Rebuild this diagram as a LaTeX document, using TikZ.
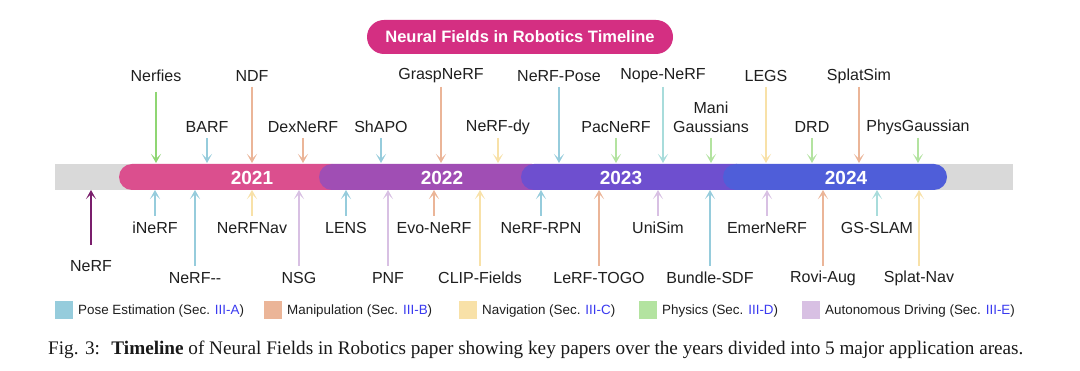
\documentclass[tikz,border=0pt]{standalone}
\usepackage{fontspec}
\setmainfont{Liberation Sans}
\newfontfamily\capfont{Liberation Serif}
\usetikzlibrary{arrows.meta}
\definecolor{cGray}{HTML}{D9D9D9}
\definecolor{cYA}{HTML}{DB4F8E}
\definecolor{cYB}{HTML}{A04EB4}
\definecolor{cYC}{HTML}{6E4FCF}
\definecolor{cYD}{HTML}{4F5ED9}
\definecolor{cTitle}{HTML}{D42F82}
\definecolor{cPose}{HTML}{96CCDC}
\definecolor{cManip}{HTML}{EBB598}
\definecolor{cNav}{HTML}{F8E1A8}
\definecolor{cPhys}{HTML}{B3E3A0}
\definecolor{cAuto}{HTML}{D8C0E3}
\definecolor{cTeal}{HTML}{A8DCDB}
\definecolor{cGreen}{HTML}{8FD673}
\definecolor{cNerf}{HTML}{7A1E6C}
\definecolor{cLink}{HTML}{3A3AF0}
\tikzset{
  lbl/.style={font=\fontsize{16}{19}\selectfont, inner sep=0pt, text=black!88},
  arr/.style={line width=1.4pt, -{Stealth[length=9pt,width=10pt,inset=5pt]}},
  yr/.style={font=\fontsize{19}{22}\selectfont\bfseries, text=white, inner sep=0pt},
  seg/.style={rounded corners=13pt},
  legsq/.style={minimum width=18pt, minimum height=18pt, inner sep=0pt},
  legtxt/.style={font=\fontsize{13.4}{16}\selectfont, inner sep=0pt, anchor=west, text=black!88},
}
\begin{document}
\begin{tikzpicture}[x=1pt,y=-1pt]
\useasboundingbox[fill=white] (0,0) rectangle (1080,371);
% title
\node[fill=cTitle, rounded corners=17pt, minimum width=306pt, minimum height=34pt, inner sep=0pt,
  text=white, font=\fontsize{16.5}{19}\selectfont\bfseries] (title) at (520,37) {Neural Fields in Robotics Timeline};
% bar
\fill[cGray] (55,164) rectangle (1013,190);
\fill[cYA, seg] (119,164) rectangle (345,190);
\fill[cYB, seg] (319,164) rectangle (545,190);
\fill[cYC, seg] (521,164) rectangle (750,190);
\fill[cYD, seg] (723,164) rectangle (947,190);
\node[yr] (y21) at (252,177.5) {2021};
\node[yr] (y22) at (442,177.5) {2022};
\node[yr] (y23) at (621,177.5) {2023};
\node[yr] (y24) at (846,177.5) {2024};
% top arrows
\foreach \i/\x/\t/\c/\ys/\ly in {
  a/156/Nerfies/cGreen/92/76,
  b/207/BARF/cPose/138/127,
  c/252/NDF/cManip/87/76,
  d/303/DexNeRF/cManip/138/127,
  e/381/ShAPO/cPose/138/127,
  f/441/GraspNeRF/cManip/87/76,
  g/498/NeRF-dy/cNav/138/127,
  h/559/NeRF-Pose/cPose/87/76,
  i/616/PacNeRF/cPhys/138/127,
  j/663/Nope-NeRF/cTeal/87/76,
  k/766/LEGS/cNav/87/76,
  l/812/DRD/cPhys/138/127,
  m/859/SplatSim/cManip/87/76,
  n/918/PhysGaussian/cPhys/138/127}{
  \node[lbl] (t\i) at (\x,\ly) {\t};
  \coordinate (t\i s) at (\x,\ys);
  \coordinate (t\i e) at (\x,163);
  \draw[arr, \c] (t\i s) -- (t\i e);
}
\node[lbl, align=center] (tmani) at (711,117.5) {Mani\\[0pt]Gaussians};
\coordinate (tmanis) at (711,138);
\coordinate (tmanie) at (711,163);
\draw[arr, cPhys] (tmanis) -- (tmanie);
% bottom arrows
\foreach \i/\x/\t/\c/\ys/\ly in {
  a/91/NeRF/cNerf/245/266,
  b/155/iNeRF/cPose/216/228,
  c/195/NeRF-{}-/cPose/266/278,
  d/252/NeRFNav/cNav/216/228,
  e/299/NSG/cAuto/266/278,
  f/346/LENS/cPose/216/228,
  g/388/PNF/cAuto/266/278,
  h/434/Evo-NeRF/cManip/216/228,
  i/480/CLIP-Fields/cNav/266/278,
  j/541/NeRF-RPN/cPose/216/228,
  k/599/LeRF-TOGO/cManip/266/278,
  l/658/UniSim/cAuto/216/228,
  m/710/Bundle-SDF/cPose/266/278,
  n/767/EmerNeRF/cAuto/216/228,
  o/823/Rovi-Aug/cManip/266/278,
  p/877/GS-SLAM/cTeal/216/228,
  q/919/Splat-Nav/cNav/266/278}{
  \node[lbl] (b\i) at (\x,\ly) {\t};
  \coordinate (b\i s) at (\x,\ys);
  \coordinate (b\i e) at (\x,190);
  \draw[arr, \c] (b\i s) -- (b\i e);
}
% legend
\node[legsq, fill=cPose]  (lp) at (64,310) {};
\node[legsq, fill=cManip] (lm) at (273,310) {};
\node[legsq, fill=cNav]   (ln) at (468,310) {};
\node[legsq, fill=cPhys]  (lh) at (648,310) {};
\node[legsq, fill=cAuto]  (la) at (811,310) {};
\node[legtxt] (lpt) at (78,311) {Pose Estimation (Sec. \textcolor{cLink}{III-A})};
\node[legtxt] (lmt) at (287,311) {Manipulation (Sec. \textcolor{cLink}{III-B})};
\node[legtxt] (lnt) at (482,311) {Navigation (Sec. \textcolor{cLink}{III-C})};
\node[legtxt] (lht) at (662,311) {Physics (Sec. \textcolor{cLink}{III-D})};
\node[legtxt] (lat) at (825,311) {Autonomous Driving (Sec. \textcolor{cLink}{III-E})};
% caption
\node[anchor=west, inner sep=0pt, font=\capfont\fontsize{19.2}{22}\selectfont, text=black!90] (cap) at (48,350)
  {Fig. 3:\hspace{0.6em}\textbf{Timeline} of Neural Fields in Robotics paper showing key papers over the years divided into 5 major application areas.};
\end{tikzpicture}
\end{document}
